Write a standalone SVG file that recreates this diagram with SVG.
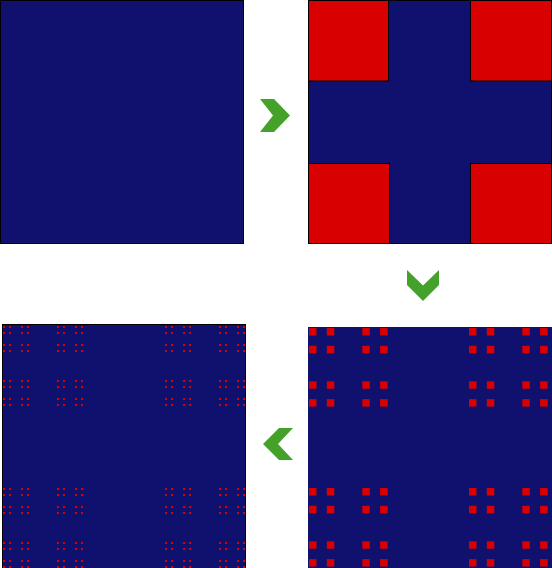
<svg xmlns="http://www.w3.org/2000/svg" xmlns:xlink="http://www.w3.org/1999/xlink" width="552" height="568" viewBox="0 0 552 568">
<style>
.panel{fill:#10106f;stroke:#000;stroke-width:1}
.red{fill:#d80000;stroke:#000;stroke-width:1}
.dot{fill:#d80000}
.arrow{fill:#44a12a}
</style>
<defs>
<rect id="s0" class="dot" width="2" height="2"/>
<g id="s1"><use href="#s0"/><use href="#s0" x="6"/><use href="#s0" y="6"/><use href="#s0" x="6" y="6"/></g>
<g id="s2"><use href="#s1"/><use href="#s1" x="18"/><use href="#s1" y="18"/><use href="#s1" x="18" y="18"/></g>
<g id="s3"><use href="#s2"/><use href="#s2" x="54"/><use href="#s2" y="54"/><use href="#s2" x="54" y="54"/></g>
<rect id="m0" class="dot" width="7.5" height="7.5"/>
<g id="m1"><use href="#m0"/><use href="#m0" x="17.8"/><use href="#m0" y="17.8"/><use href="#m0" x="17.8" y="17.8"/></g>
<g id="m2"><use href="#m1"/><use href="#m1" x="53.3"/><use href="#m1" y="53.3"/><use href="#m1" x="53.3" y="53.3"/></g>
</defs>
<rect width="552" height="568" fill="#fff"/>
<g id="stage0">
<rect class="panel" x="0.5" y="0.5" width="243" height="243"/>
</g>
<g id="stage1">
<rect class="panel" x="308.5" y="0.5" width="243" height="243"/>
<rect class="red" x="308.5" y="0.5" width="80" height="80.5"/>
<rect class="red" x="470.5" y="0.5" width="81" height="80.5"/>
<rect class="red" x="308.5" y="163.5" width="81" height="80"/>
<rect class="red" x="470.5" y="163.5" width="81" height="80"/>
</g>
<g id="stage2">
<rect x="308" y="327" width="244" height="244" fill="#10106f"/>
<use href="#m2" x="309" y="328"/>
<use href="#m2" x="469" y="328"/>
<use href="#m2" x="309" y="488"/>
<use href="#m2" x="469" y="488"/>
</g>
<g id="stage3">
<rect class="panel" x="2.5" y="324.5" width="243" height="245"/>
<use href="#s3" x="3" y="326"/>
<use href="#s3" x="165" y="326"/>
<use href="#s3" x="3" y="488"/>
<use href="#s3" x="165" y="488"/>
</g>
<g id="connectors">
<polygon class="arrow" points="260,99 274,99 290,115.5 274,132 260,132 273,115.5"/>
<polygon class="arrow" points="407,270 423,285.5 439,270 439,285 423,301 407,285"/>
<polygon class="arrow" points="293,428 279,428 263,444 279,460 293,460 278,444"/>
</g>
</svg>
